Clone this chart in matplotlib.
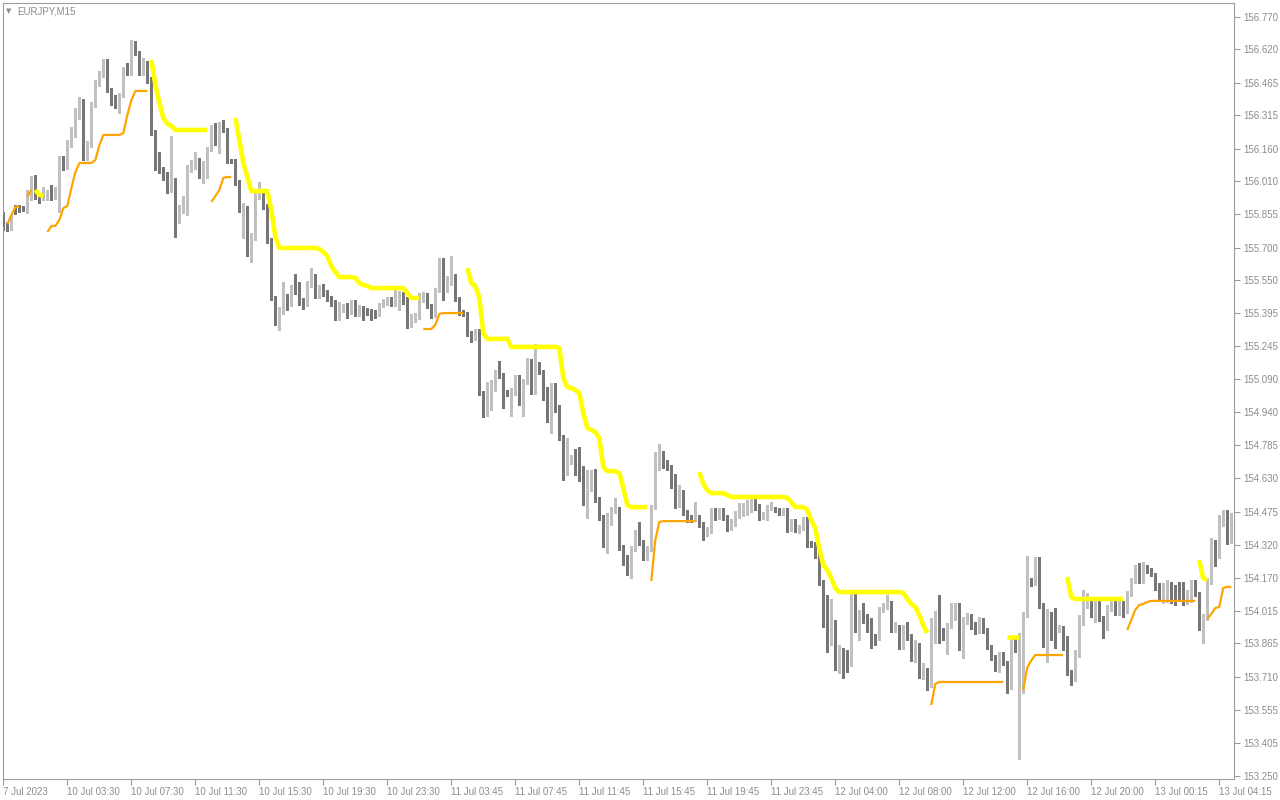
import matplotlib
matplotlib.use("Agg")
import matplotlib.pyplot as plt
import numpy as np

plt.rcParams['font.family'] = ['Liberation Sans', 'DejaVu Sans']

# EURJPY M15 bars (price)
opens = [
    155.852, 155.805, 155.792, 155.889, 155.889, 155.884, 155.875, 155.931, 156.028, 155.931,
    155.936, 155.931, 155.954, 155.936, 155.954, 156.112, 156.074, 156.176, 156.223, 156.306,
    156.381, 156.121, 156.176, 156.362, 156.459, 156.501, 156.529, 156.432, 156.399, 156.385,
    156.408, 156.529, 156.510, 156.650, 156.603, 156.510, 156.557, 156.478, 156.237, 156.135,
    156.065, 156.037, 155.968, 156.014, 155.829, 155.870, 155.898, 156.061, 156.074, 156.107,
    156.033, 156.093, 156.158, 156.255, 156.186, 156.269, 156.246, 156.102, 156.102, 156.005,
    155.875, 155.884, 155.676, 155.745, 155.936, 155.945, 155.894, 155.736, 155.467, 155.379,
    155.402, 155.476, 155.439, 155.513, 155.495, 155.453, 155.439, 155.527, 155.569, 155.476,
    155.509, 155.495, 155.467, 155.448, 155.388, 155.425, 155.425, 155.411, 155.448, 155.397,
    155.416, 155.411, 155.407, 155.393, 155.390, 155.434, 155.448, 155.458, 155.439, 155.476,
    155.490, 155.448, 155.370, 155.379, 155.383, 155.458, 155.481, 155.430, 155.388, 155.504,
    155.643, 155.509, 155.536, 155.569, 155.462, 155.397, 155.393, 155.300, 155.297, 155.314,
    155.026, 154.933, 154.984, 155.045, 155.114, 155.110, 155.026, 155.023, 155.026, 155.100,
    155.008, 155.077, 155.165, 155.031, 155.161, 155.124, 155.045, 154.938, 155.063, 154.961,
    154.822, 154.678, 154.706, 154.725, 154.697, 154.632, 154.521, 154.581, 154.632, 154.535,
    154.451, 154.326, 154.451, 154.484, 154.484, 154.312, 154.261, 154.191, 154.303, 154.340,
    154.335, 154.261, 154.303, 154.497, 154.711, 154.729, 154.697, 154.683, 154.641, 154.507,
    154.562, 154.474, 154.446, 154.441, 154.451, 154.419, 154.377, 154.391, 154.484, 154.451,
    154.480, 154.451, 154.400, 154.419, 154.460, 154.470, 154.474, 154.484, 154.535, 154.493,
    154.451, 154.460, 154.493, 154.488, 154.484, 154.479, 154.474, 154.395, 154.432, 154.391,
    154.400, 154.442, 154.326, 154.326, 154.312, 154.145, 154.080, 153.871, 153.959, 153.751,
    153.788, 153.779, 153.774, 154.066, 153.941, 153.997, 153.978, 153.969, 153.899, 153.890,
    154.020, 154.034, 154.048, 153.932, 153.941, 153.848, 153.932, 153.899, 153.792, 153.853,
    153.714, 153.737, 153.690, 153.969, 153.973, 153.913, 153.890, 153.946, 153.992, 154.038,
    153.862, 153.973, 153.987, 153.950, 153.936, 153.969, 153.927, 153.848, 153.802, 153.746,
    153.811, 153.774, 153.663, 153.885, 153.839, 153.885, 153.997, 154.150, 154.145, 154.205,
    154.043, 153.857, 153.950, 153.932, 153.927, 153.932, 153.890, 153.728, 153.709, 153.816,
    153.983, 154.043, 154.052, 153.997, 154.057, 153.978, 153.936, 154.029, 154.057, 154.010,
    154.052, 154.020, 154.098, 154.154, 154.187, 154.154, 154.219, 154.205, 154.180, 154.136,
    154.071, 154.075, 154.126, 154.103, 154.085, 154.080, 154.062, 154.066, 154.136, 154.094,
    153.978, 153.987, 154.150, 154.317, 154.270, 154.423, 154.437, 154.353,
]
highs = [
    155.866, 155.820, 155.852, 155.898, 155.898, 155.894, 155.968, 156.033, 156.037, 155.940,
    155.982, 155.968, 155.991, 155.982, 156.126, 156.126, 156.200, 156.260, 156.348, 156.399,
    156.390, 156.195, 156.376, 156.478, 156.520, 156.575, 156.575, 156.441, 156.408, 156.418,
    156.538, 156.557, 156.663, 156.659, 156.612, 156.580, 156.566, 156.492, 156.246, 156.144,
    156.074, 156.051, 156.218, 156.024, 155.900, 155.940, 156.084, 156.107, 156.144, 156.116,
    156.102, 156.167, 156.269, 156.279, 156.283, 156.292, 156.255, 156.112, 156.112, 156.014,
    155.907, 155.894, 155.768, 155.959, 156.005, 155.954, 155.903, 155.745, 155.476, 155.425,
    155.541, 155.485, 155.527, 155.578, 155.541, 155.467, 155.546, 155.606, 155.578, 155.527,
    155.532, 155.504, 155.476, 155.458, 155.448, 155.439, 155.444, 155.458, 155.458, 155.434,
    155.430, 155.421, 155.416, 155.411, 155.444, 155.462, 155.472, 155.472, 155.504, 155.500,
    155.495, 155.472, 155.393, 155.397, 155.490, 155.495, 155.490, 155.439, 155.513, 155.652,
    155.652, 155.569, 155.662, 155.578, 155.472, 155.411, 155.402, 155.314, 155.323, 155.323,
    155.035, 155.077, 155.087, 155.133, 155.175, 155.119, 155.040, 155.049, 155.110, 155.110,
    155.091, 155.189, 155.184, 155.254, 155.170, 155.133, 155.054, 155.073, 155.073, 154.971,
    154.831, 154.817, 154.739, 154.767, 154.776, 154.688, 154.669, 154.669, 154.674, 154.544,
    154.460, 154.470, 154.497, 154.539, 154.497, 154.321, 154.275, 154.317, 154.391, 154.428,
    154.344, 154.317, 154.507, 154.753, 154.790, 154.757, 154.715, 154.692, 154.651, 154.600,
    154.576, 154.484, 154.460, 154.521, 154.460, 154.428, 154.405, 154.493, 154.493, 154.493,
    154.493, 154.460, 154.442, 154.479, 154.516, 154.516, 154.530, 154.544, 154.544, 154.511,
    154.474, 154.507, 154.521, 154.497, 154.493, 154.493, 154.493, 154.442, 154.442, 154.414,
    154.451, 154.451, 154.340, 154.335, 154.321, 154.159, 154.089, 154.071, 153.973, 153.857,
    153.843, 153.834, 154.094, 154.098, 154.020, 154.052, 154.001, 153.983, 153.908, 154.034,
    154.052, 154.089, 154.062, 153.964, 153.950, 153.950, 153.964, 153.908, 153.881, 153.866,
    153.774, 153.751, 153.983, 154.015, 154.089, 153.936, 153.959, 154.052, 154.052, 154.052,
    153.987, 154.006, 154.001, 153.964, 153.987, 153.983, 153.936, 153.857, 153.811, 153.825,
    153.825, 153.783, 153.895, 153.895, 153.913, 154.010, 154.270, 154.168, 154.266, 154.266,
    154.052, 154.024, 154.010, 154.029, 153.950, 153.946, 153.899, 153.742, 153.834, 153.997,
    154.112, 154.098, 154.066, 154.066, 154.066, 153.992, 154.043, 154.075, 154.066, 154.066,
    154.062, 154.108, 154.168, 154.228, 154.237, 154.242, 154.228, 154.214, 154.190, 154.145,
    154.145, 154.159, 154.150, 154.136, 154.150, 154.150, 154.112, 154.159, 154.159, 154.103,
    154.001, 154.168, 154.354, 154.344, 154.460, 154.484, 154.484, 154.470,
]
lows = [
    155.782, 155.778, 155.782, 155.857, 155.866, 155.871, 155.861, 155.921, 155.926, 155.907,
    155.921, 155.921, 155.921, 155.926, 155.866, 156.061, 156.065, 156.167, 156.214, 156.297,
    156.107, 156.107, 156.167, 156.353, 156.450, 156.492, 156.422, 156.362, 156.348, 156.325,
    156.399, 156.501, 156.501, 156.594, 156.501, 156.501, 156.464, 156.223, 156.061, 156.047,
    156.014, 155.954, 155.959, 155.750, 155.815, 155.860, 155.852, 156.051, 156.065, 156.024,
    156.000, 156.024, 156.149, 156.176, 156.139, 156.237, 156.093, 156.093, 155.991, 155.866,
    155.745, 155.662, 155.634, 155.736, 155.926, 155.880, 155.722, 155.458, 155.342, 155.318,
    155.393, 155.411, 155.430, 155.485, 155.434, 155.416, 155.430, 155.518, 155.467, 155.467,
    155.476, 155.453, 155.430, 155.365, 155.365, 155.402, 155.374, 155.393, 155.383, 155.383,
    155.365, 155.388, 155.365, 155.374, 155.383, 155.425, 155.434, 155.430, 155.430, 155.411,
    155.439, 155.328, 155.332, 155.356, 155.370, 155.448, 155.421, 155.374, 155.379, 155.495,
    155.458, 155.495, 155.527, 155.453, 155.388, 155.383, 155.290, 155.263, 155.272, 155.017,
    154.915, 154.920, 154.947, 155.035, 155.096, 154.957, 155.012, 154.920, 155.017, 154.971,
    154.920, 155.068, 155.022, 155.022, 155.114, 154.994, 154.892, 154.841, 154.938, 154.808,
    154.623, 154.646, 154.697, 154.646, 154.618, 154.507, 154.446, 154.572, 154.521, 154.437,
    154.312, 154.284, 154.414, 154.470, 154.298, 154.228, 154.182, 154.168, 154.293, 154.321,
    154.252, 154.252, 154.293, 154.488, 154.669, 154.678, 154.669, 154.586, 154.493, 154.497,
    154.460, 154.428, 154.428, 154.432, 154.405, 154.344, 154.363, 154.377, 154.437, 154.440,
    154.437, 154.386, 154.391, 154.409, 154.446, 154.456, 154.460, 154.474, 154.484, 154.437,
    154.442, 154.437, 154.484, 154.474, 154.460, 154.460, 154.381, 154.386, 154.381, 154.377,
    154.391, 154.312, 154.312, 154.261, 154.136, 153.941, 153.825, 153.857, 153.742, 153.728,
    153.704, 153.732, 153.760, 153.918, 153.881, 153.959, 153.918, 153.843, 153.857, 153.881,
    154.010, 154.024, 153.918, 153.918, 153.839, 153.839, 153.881, 153.783, 153.779, 153.704,
    153.700, 153.649, 153.663, 153.866, 153.866, 153.881, 153.816, 153.936, 153.973, 153.834,
    153.797, 153.955, 153.932, 153.908, 153.913, 153.913, 153.839, 153.788, 153.737, 153.732,
    153.765, 153.635, 153.653, 153.825, 153.329, 153.635, 153.987, 154.131, 154.136, 154.029,
    153.848, 153.779, 153.881, 153.843, 153.918, 153.834, 153.718, 153.672, 153.690, 153.802,
    153.950, 154.029, 153.987, 153.964, 153.969, 153.890, 153.927, 154.015, 153.997, 153.997,
    153.987, 154.006, 154.085, 154.145, 154.145, 154.145, 154.191, 154.177, 154.112, 154.066,
    154.052, 154.057, 154.052, 154.043, 154.066, 154.043, 154.048, 154.057, 154.085, 153.927,
    153.866, 153.973, 154.140, 154.224, 154.261, 154.409, 154.326, 154.330,
]
closes = [
    155.796, 155.796, 155.838, 155.866, 155.880, 155.882, 155.936, 156.024, 155.931, 155.917,
    155.940, 155.954, 155.931, 155.954, 156.116, 156.074, 156.176, 156.223, 156.306, 156.376,
    156.121, 156.181, 156.362, 156.459, 156.501, 156.524, 156.432, 156.399, 156.385, 156.408,
    156.529, 156.510, 156.650, 156.603, 156.510, 156.557, 156.473, 156.237, 156.130, 156.065,
    156.033, 155.968, 156.014, 155.824, 155.880, 155.926, 156.061, 156.074, 156.107, 156.033,
    156.093, 156.158, 156.255, 156.186, 156.269, 156.246, 156.102, 156.098, 156.005, 155.875,
    155.889, 155.676, 155.750, 155.945, 155.945, 155.889, 155.731, 155.467, 155.379, 155.407,
    155.476, 155.439, 155.513, 155.495, 155.448, 155.439, 155.527, 155.569, 155.476, 155.509,
    155.490, 155.462, 155.444, 155.388, 155.425, 155.428, 155.411, 155.448, 155.397, 155.416,
    155.407, 155.402, 155.393, 155.390, 155.434, 155.448, 155.458, 155.439, 155.485, 155.490,
    155.448, 155.370, 155.379, 155.383, 155.481, 155.481, 155.430, 155.388, 155.504, 155.643,
    155.509, 155.536, 155.569, 155.462, 155.397, 155.393, 155.300, 155.297, 155.314, 155.026,
    154.933, 154.984, 155.045, 155.114, 155.105, 155.026, 155.023, 155.026, 155.100, 155.008,
    155.077, 155.165, 155.031, 155.161, 155.124, 155.040, 154.938, 155.063, 154.961, 154.822,
    154.678, 154.706, 154.725, 154.697, 154.632, 154.521, 154.581, 154.632, 154.535, 154.451,
    154.326, 154.451, 154.484, 154.488, 154.312, 154.261, 154.191, 154.303, 154.340, 154.331,
    154.261, 154.303, 154.497, 154.715, 154.725, 154.692, 154.678, 154.641, 154.507, 154.562,
    154.474, 154.437, 154.437, 154.451, 154.419, 154.377, 154.391, 154.484, 154.451, 154.484,
    154.451, 154.400, 154.419, 154.460, 154.470, 154.474, 154.488, 154.535, 154.493, 154.451,
    154.460, 154.493, 154.507, 154.484, 154.474, 154.479, 154.391, 154.428, 154.391, 154.400,
    154.442, 154.326, 154.323, 154.312, 154.145, 154.080, 153.866, 153.964, 153.751, 153.788,
    153.779, 153.774, 154.066, 153.941, 153.992, 153.973, 153.964, 153.899, 153.890, 154.020,
    154.034, 154.048, 153.932, 153.941, 153.848, 153.932, 153.895, 153.792, 153.853, 153.714,
    153.737, 153.690, 153.969, 153.973, 153.913, 153.895, 153.946, 153.992, 154.038, 153.862,
    153.973, 153.987, 153.946, 153.936, 153.973, 153.927, 153.848, 153.797, 153.746, 153.811,
    153.774, 153.663, 153.885, 153.839, 153.885, 153.997, 154.150, 154.145, 154.205, 154.038,
    153.857, 153.946, 153.927, 153.927, 153.932, 153.890, 153.728, 153.709, 153.816, 153.983,
    154.043, 154.057, 153.997, 154.057, 153.978, 153.936, 154.029, 154.057, 154.010, 154.052,
    154.020, 154.098, 154.154, 154.187, 154.154, 154.219, 154.200, 154.187, 154.136, 154.080,
    154.075, 154.122, 154.098, 154.085, 154.075, 154.066, 154.066, 154.136, 154.094, 153.978,
    153.987, 154.154, 154.317, 154.270, 154.423, 154.437, 154.349, 154.446,
]

# trailing-stop indicator: (first bar, values)
yellow_parts = [
    (8, [155.968, 155.945, 155.940]),
    (37, [156.571, 156.455, 156.371, 156.302, 156.274, 156.265, 156.246, 156.246, 156.246,
          156.246, 156.246, 156.246, 156.246, 156.246, 156.246]),
    (58, [156.302, 156.200, 156.093, 156.028, 155.963, 155.963, 155.963, 155.963, 155.963,
          155.875, 155.750, 155.699, 155.699, 155.699, 155.699, 155.699, 155.699, 155.699,
          155.699, 155.699, 155.699, 155.694, 155.680, 155.662, 155.615, 155.587, 155.564,
          155.564, 155.564, 155.564, 155.560, 155.536, 155.527, 155.522, 155.513, 155.513,
          155.513, 155.513, 155.513, 155.513, 155.513, 155.513, 155.513, 155.490, 155.467,
          155.467, 155.467]),
    (116, [155.606, 155.536, 155.522, 155.467, 155.304, 155.277, 155.277, 155.277, 155.277,
           155.277, 155.277, 155.240, 155.240, 155.240, 155.240, 155.240, 155.240, 155.240,
           155.240, 155.240, 155.240, 155.240, 155.240, 155.235, 155.096, 155.054, 155.049,
           155.040, 155.026, 154.933, 154.864, 154.855, 154.845, 154.817, 154.683, 154.664,
           154.664, 154.664, 154.655, 154.586, 154.507, 154.497, 154.497, 154.497, 154.497,
           154.497]),
    (174, [154.660, 154.604, 154.576, 154.562, 154.562, 154.562, 154.562, 154.553, 154.544,
           154.544, 154.544, 154.544, 154.544, 154.544, 154.544, 154.544, 154.544, 154.544,
           154.544, 154.544, 154.544, 154.544, 154.539, 154.521, 154.497, 154.497, 154.497,
           154.484, 154.437, 154.400, 154.307, 154.228, 154.205, 154.168, 154.122, 154.103,
           154.103, 154.103, 154.103, 154.103, 154.103, 154.103, 154.103, 154.103, 154.103,
           154.103, 154.103, 154.103, 154.103, 154.103, 154.103, 154.099, 154.071, 154.048,
           154.034, 153.997, 153.950, 153.913]),
    (251, [153.894, 153.894, 153.894, 153.894]),
    (266, [154.173, 154.080, 154.071, 154.071, 154.071, 154.071, 154.071, 154.071, 154.071,
           154.071, 154.071, 154.071, 154.071, 154.071, 154.071]),
    (299, [154.252, 154.168, 154.159]),
]
orange_parts = [
    (1, [155.810, 155.852, 155.889, 155.889]),
    (6, [155.936, 155.968]),
    (11, [155.773, 155.801, 155.801, 155.829, 155.884, 155.894, 155.977, 156.051, 156.093,
          156.093, 156.093, 156.093, 156.107, 156.176, 156.223, 156.223, 156.223, 156.223,
          156.223, 156.232, 156.316, 156.385, 156.427, 156.427, 156.427, 156.427]),
    (52, [155.912, 155.940, 155.968, 156.024, 156.028, 156.028]),
    (105, [155.323, 155.323, 155.323, 155.342, 155.393, 155.397, 155.397, 155.397, 155.397,
           155.397, 155.397]),
    (162, [154.154, 154.344, 154.428, 154.432, 154.432, 154.432, 154.432, 154.432, 154.432,
           154.432, 154.432, 154.432]),
    (232, [153.579, 153.677, 153.686, 153.686, 153.686, 153.686, 153.686, 153.686, 153.686,
           153.686, 153.686, 153.686, 153.686, 153.686, 153.686, 153.686, 153.686, 153.686,
           153.686]),
    (255, [153.649, 153.753, 153.785, 153.811, 153.811, 153.811, 153.811, 153.811, 153.811,
           153.811, 153.811]),
    (281, [153.927, 153.973, 154.020, 154.043, 154.048, 154.057, 154.062, 154.062, 154.062,
           154.062, 154.062, 154.062, 154.062, 154.062, 154.062, 154.062, 154.062, 154.062]),
    (301, [153.978, 154.001, 154.029, 154.034, 154.122, 154.127, 154.127]),
]

x_labels = ["7 Jul 2023", "10 Jul 03:30", "10 Jul 07:30", "10 Jul 11:30", "10 Jul 15:30",
            "10 Jul 19:30", "10 Jul 23:30", "11 Jul 03:45", "11 Jul 07:45", "11 Jul 11:45",
            "11 Jul 15:45", "11 Jul 19:45", "11 Jul 23:45", "12 Jul 04:00", "12 Jul 08:00",
            "12 Jul 12:00", "12 Jul 16:00", "12 Jul 20:00", "13 Jul 00:15", "13 Jul 04:15"]
y_labels = ["153.250", "153.405", "153.555", "153.710", "153.865", "154.015", "154.170",
            "154.320", "154.475", "154.630", "154.785", "154.940", "155.090", "155.245",
            "155.395", "155.550", "155.700", "155.855", "156.010", "156.160", "156.315",
            "156.465", "156.620", "156.770"]

o = np.array(opens)
h = np.array(highs)
l = np.array(lows)
c = np.array(closes)
n = len(c)
assert len(o) == n and len(h) == n and len(l) == n, (len(o), len(h), len(l), n)
idx = np.arange(n)

fig = plt.figure(figsize=(12.8, 8), dpi=100)
ax = fig.add_axes([3 / 1280, 21 / 800, 1231 / 1280, 776 / 800])

up = c >= o
cols = np.where(up, '#c0c0c0', '#767676')
ax.vlines(idx, l, h, colors=cols, linewidth=0.8, antialiased=False, zorder=2)
bottom = np.minimum(o, c)
height = np.maximum(np.abs(c - o), 0.004)
ax.bar(idx, height, bottom=bottom, width=0.78, color=cols, linewidth=0,
       antialiased=False, zorder=3)

for start, vals in yellow_parts:
    ax.plot(np.arange(start, start + len(vals)), vals, color='#ffff00', lw=3.3,
            solid_capstyle='butt', zorder=5)
for start, vals in orange_parts:
    ax.plot(np.arange(start, start + len(vals)), vals, color='#ffa500', lw=1.6,
            solid_capstyle='butt', zorder=4)

ax.set_xlim(-0.1, 307.7)
ax.set_ylim(153.236, 156.835)

frame = '#9a9aa0'
txt = '#8c8c94'
for s in ax.spines.values():
    s.set_color(frame)
    s.set_linewidth(0.8)

ax.yaxis.tick_right()
ax.set_yticks([float(v) for v in y_labels], labels=y_labels)
ax.set_xticks(np.arange(len(x_labels)) * 16, labels=x_labels)
ax.tick_params(axis='both', direction='out', length=4, width=0.8, color=frame,
               labelcolor=txt, labelsize=7)
ax.tick_params(axis='y', pad=3)
ax.tick_params(axis='x', pad=2)
for t in ax.get_xticklabels():
    t.set_ha('left')

fig.text(6 / 1280, 1 - 11 / 800, '▼', fontsize=5, color=txt, va='center',
         family=['DejaVu Sans'])
fig.text(17 / 1280, 1 - 11 / 800, 'EURJPY,M15', fontsize=7, color=txt, va='center')

fig.savefig('out.png', dpi=100, facecolor='white')
